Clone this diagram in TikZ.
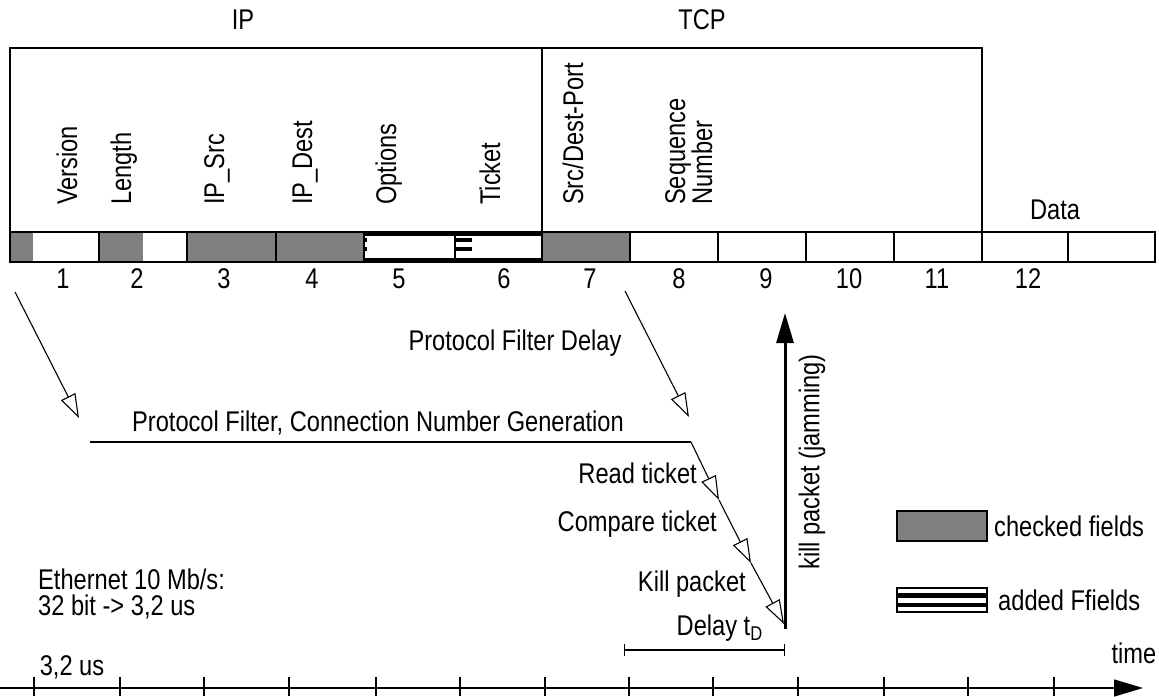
\documentclass[tikz,border=0pt]{standalone}
\usepackage{fontspec}
\setmainfont{Liberation Sans}[FakeStretch=0.83]
\usetikzlibrary{arrows.meta}
\tikzset{
  lbl/.style={inner sep=0pt},
  vlbl/.style={rotate=90, anchor=base west, inner sep=0pt},
  thin line/.style={line width=1.2pt},
  openarrow/.style={line width=1.1pt, -{Triangle[open,length=24pt,width=16pt,line width=1.1pt]}},
  boldarrow/.style={line width=3pt, -{Triangle[length=30pt,width=17pt]}},
  axisarrow/.style={line width=1.4pt, -{Triangle[length=29pt,width=17pt]}},
  cellline/.style={line width=2.6pt},
  checked/.style={fill=black!50},
}
\begin{document}
\begin{tikzpicture}[x=1pt,y=-1pt,font=\fontsize{28.5}{33}\selectfont]
\useasboundingbox (0,0) rectangle (1159,696);

% protocol headers
\node[lbl] (ip) at (243,20) {IP};
\node[lbl] (tcp) at (702,20) {TCP};

% frames
\draw[line width=1.4pt] (10,232) -- (10,48) -- (982,48) -- (982,232);
\draw[line width=1.2pt] (542,48) -- (542,232);

% field labels
\node[vlbl] (version) at (77,205) {Version};
\node[vlbl] (length) at (131,205) {Length};
\node[vlbl] (ipsrc) at (224,205) {IP\_Src};
\node[vlbl] (ipdest) at (312,205) {IP\_Dest};
\node[vlbl] (options) at (396,205) {Options};
\node[vlbl] (ticket) at (500,205) {Ticket};
\node[vlbl] (port) at (583,205) {Src/Dest-Port};
\node[vlbl] (seq) at (685,205) {Sequence};
\node[vlbl] (num) at (712,205) {Number};
\node[lbl] (data) at (1055,210) {Data};

% bar
\fill[checked] (10,232) rectangle (33,262);
\fill[checked] (99,232) rectangle (143,262);
\fill[checked] (187,232) rectangle (364,262);
\fill[checked] (542,232) rectangle (630,262);
\draw[cellline] (10,232) rectangle (1155,262);
\foreach \x in {99,187,276,364,455,542,630,718,806,894,982,1068}
  \draw[cellline] (\x,232) -- (\x,262);
\draw[line width=4.5pt] (364,233.5) -- (542,233.5);
\draw[line width=4.5pt] (364,260) -- (542,260);
\fill (455,238) rectangle (472,242);
\fill (455,247) rectangle (472,251);
\fill (364,238) rectangle (367,242);
\fill (364,247) rectangle (367,251);

% numbers
\foreach \n/\x in {1/63,2/137,3/224,4/312,5/399,6/504,7/590,8/679,9/766,10/849,11/937,12/1028}
  \node[lbl] (n\n) at (\x,279) {\n};

% protocol filter arrows
\coordinate (a1s) at (15,292);
\coordinate (a1e) at (79,418);
\draw[openarrow] (a1s) -- (a1e);
\node[lbl] (pfd) at (515,343) {Protocol Filter Delay};
\coordinate (a2s) at (625,291);
\coordinate (a2e) at (689,417);
\draw[openarrow] (a2s) -- (a2e);
\node[lbl] (pfc) at (378,423) {Protocol Filter, Connection Number Generation};
\coordinate (hl) at (90,442);
\coordinate (hr) at (691,442);
\draw[thin line] (hl) -- (hr);

% ticket chain
\coordinate (t1) at (719,500);
\coordinate (t2) at (751,563);
\coordinate (t3) at (784,624);
\draw[openarrow] (hr) -- (t1);
\draw[openarrow] (t1) -- (t2);
\draw[openarrow] (t2) -- (t3);
\node[lbl, anchor=east] (read) at (697,473) {Read ticket};
\node[lbl, anchor=east] (compare) at (717,524) {Compare ticket};
\node[lbl, anchor=east] (killp) at (746,584) {Kill packet};

% kill arrow
\coordinate (kb) at (785,629);
\coordinate (kt) at (785,313);
\draw[boldarrow] (kb) -- (kt);
\node[lbl, rotate=90] (jam) at (812,462) {kill packet (jamming)};

% delay
\node[lbl, anchor=east] (delay) at (763,628) {Delay t\textsubscript{D}};
\coordinate (dl) at (624,650);
\coordinate (dr) at (785,650);
\draw[thin line, {Bar[width=12pt]}-{Bar[width=12pt]}] (dl) -- (dr);

% legend
\draw[line width=2.6pt, checked] (897,511) rectangle (987,541);
\node[lbl, anchor=west] (lchk) at (994,526) {checked fields};
\draw[line width=2.6pt, fill=white] (897,588) rectangle (987,612);
\fill (897,593) rectangle (987,598);
\fill (897,603) rectangle (987,607);
\node[lbl, anchor=west] (ladd) at (998,600) {added Ffields};

% ethernet
\node[lbl, anchor=base west] (eth1) at (38,589) {Ethernet 10 Mb/s:};
\node[lbl, anchor=base west] (eth2) at (38,615) {32 bit -> 3,2 us};

% time axis
\coordinate (ax0) at (0,688);
\coordinate (ax1) at (1143,688);
\draw[axisarrow] (ax0) -- (ax1);
\foreach \x in {34,120,204,289,376,460,545,629,713,798,884,968,1054}
  \draw[line width=1.4pt] (\x,677) -- (\x,696);
\node[lbl] (us) at (72,667) {3,2 us};
\node[lbl] (time) at (1134,653) {time};
\end{tikzpicture}
\end{document}
